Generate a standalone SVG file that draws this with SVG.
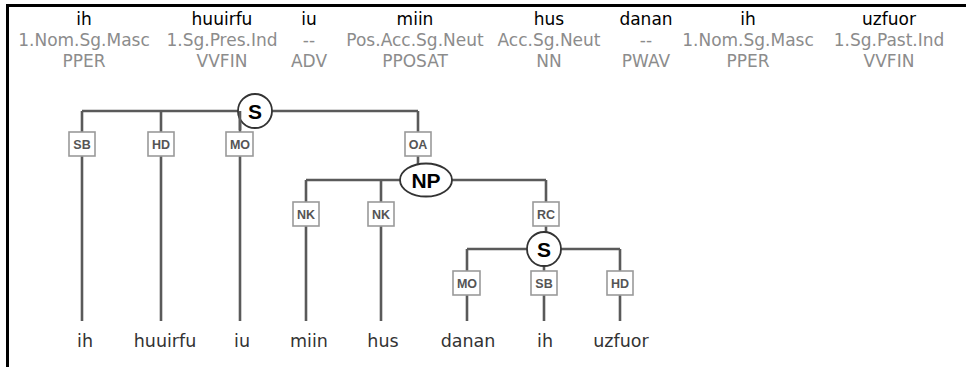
<svg xmlns="http://www.w3.org/2000/svg" width="966" height="367" viewBox="0 0 966 367">
  <style>
    .word { font-family: "DejaVu Sans", Verdana, sans-serif; font-size: 17px; fill: #000; text-anchor: middle; }
    .morph { font-family: "DejaVu Sans", Verdana, sans-serif; font-size: 17px; fill: #8c8c8c; text-anchor: middle; }
    .leaf { font-family: "DejaVu Sans", Verdana, sans-serif; font-size: 17.5px; fill: #333; text-anchor: middle; }
    .edge { stroke: #5a5a5a; stroke-width: 2.6; fill: none; }
    .lbl rect { fill: #fff; stroke: #9a9a9a; stroke-width: 1.6; }
    .lbl text { font-family: "Liberation Sans", Arial, sans-serif; font-size: 12.5px; font-weight: bold; fill: #555; text-anchor: middle; }
    .cat circle, .cat ellipse { fill: #fff; stroke: #333; stroke-width: 1.8; }
    .cat text { font-family: "Liberation Sans", Arial, sans-serif; font-size: 21px; font-weight: bold; fill: #000; text-anchor: middle; }
  </style>

  <!-- frame -->
  <path d="M6 5.5 H966 M7.5 4 V367" stroke="#000" stroke-width="3" fill="none"/>

  <!-- token rows: word, morphology, part of speech -->
  <g id="tokens">
    <text class="word" x="84" y="25">ih</text>
    <text class="word" x="222" y="25">huuirfu</text>
    <text class="word" x="309" y="25">iu</text>
    <text class="word" x="415" y="25">miin</text>
    <text class="word" x="549" y="25">hus</text>
    <text class="word" x="646" y="25">danan</text>
    <text class="word" x="748" y="25">ih</text>
    <text class="word" x="889" y="25">uzfuor</text>

    <text class="morph" x="84" y="46">1.Nom.Sg.Masc</text>
    <text class="morph" x="222" y="46">1.Sg.Pres.Ind</text>
    <text class="morph" x="309" y="46">--</text>
    <text class="morph" x="415" y="46">Pos.Acc.Sg.Neut</text>
    <text class="morph" x="549" y="46">Acc.Sg.Neut</text>
    <text class="morph" x="646" y="46">--</text>
    <text class="morph" x="748" y="46">1.Nom.Sg.Masc</text>
    <text class="morph" x="889" y="46">1.Sg.Past.Ind</text>

    <text class="morph" x="84" y="67">PPER</text>
    <text class="morph" x="222" y="67">VVFIN</text>
    <text class="morph" x="309" y="67">ADV</text>
    <text class="morph" x="415" y="67">PPOSAT</text>
    <text class="morph" x="549" y="67">NN</text>
    <text class="morph" x="646" y="67">PWAV</text>
    <text class="morph" x="748" y="67">PPER</text>
    <text class="morph" x="889" y="67">VVFIN</text>
  </g>

  <!-- tree edges -->
  <g id="connectors">
    <!-- S (root) -->
    <path class="edge" d="M82 111 H238 M271 111 H418 M82 111 V321 M161 111 V321 M240 111 V321 M418 111 V164"/>
    <!-- NP -->
    <path class="edge" d="M306 180 H400 M451 180 H546 M306 180 V321 M381 180 V321 M546 180 V232"/>
    <!-- S (relative clause) -->
    <path class="edge" d="M467 249 H527 M561 249 H620 M467 249 V321 M544 249 V321 M620 249 V321"/>
  </g>

  <!-- category nodes -->
  <g id="node-s1" class="cat">
    <circle cx="255" cy="111" r="17"/>
    <text x="255" y="118.5">S</text>
  </g>
  <g id="node-np" class="cat">
    <ellipse cx="426" cy="180" rx="26" ry="16.5"/>
    <text x="426" y="187.5">NP</text>
  </g>
  <g id="node-s2" class="cat">
    <circle cx="544" cy="249" r="17"/>
    <text x="544" y="256.5">S</text>
  </g>
  <!-- MO edge of the root stays visible across the circle's lower-left rim -->
  <path class="edge" d="M240 111 V130"/>

  <!-- edge labels -->
  <g id="lbl-sb1" class="lbl"><rect x="69" y="132" width="26" height="24"/><text x="82" y="149">SB</text></g>
  <g id="lbl-hd1" class="lbl"><rect x="148" y="132" width="26" height="24"/><text x="161" y="149">HD</text></g>
  <g id="lbl-mo1" class="lbl"><rect x="226" y="132" width="27" height="24"/><text x="240" y="149">MO</text></g>
  <g id="lbl-oa" class="lbl"><rect x="405" y="132" width="26" height="24"/><text x="418" y="149">OA</text></g>
  <g id="lbl-nk1" class="lbl"><rect x="293" y="202" width="26" height="24"/><text x="306" y="219">NK</text></g>
  <g id="lbl-nk2" class="lbl"><rect x="368" y="202" width="26" height="24"/><text x="381" y="219">NK</text></g>
  <g id="lbl-rc" class="lbl"><rect x="533" y="202" width="26" height="24"/><text x="546" y="219">RC</text></g>
  <g id="lbl-mo2" class="lbl"><rect x="453" y="271" width="27" height="24"/><text x="467" y="288">MO</text></g>
  <g id="lbl-sb2" class="lbl"><rect x="531" y="271" width="26" height="24"/><text x="544" y="288">SB</text></g>
  <g id="lbl-hd2" class="lbl"><rect x="607" y="271" width="26" height="24"/><text x="620" y="288">HD</text></g>

  <!-- leaf words -->
  <g id="leaves">
    <text class="leaf" x="85" y="347">ih</text>
    <text class="leaf" x="165" y="347">huuirfu</text>
    <text class="leaf" x="242" y="347">iu</text>
    <text class="leaf" x="309" y="347">miin</text>
    <text class="leaf" x="383" y="347">hus</text>
    <text class="leaf" x="468" y="347">danan</text>
    <text class="leaf" x="545" y="347">ih</text>
    <text class="leaf" x="621" y="347">uzfuor</text>
  </g>
</svg>
